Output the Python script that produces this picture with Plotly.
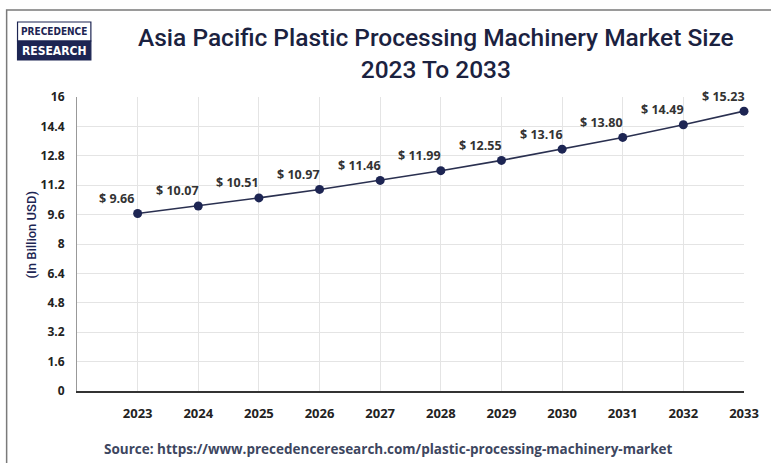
import plotly.graph_objects as go

years = [2023, 2024, 2025, 2026, 2027, 2028, 2029, 2030, 2031, 2032, 2033]
values = [9.66, 10.07, 10.51, 10.97, 11.46, 11.99, 12.55, 13.16, 13.80, 14.49, 15.23]
value_labels = ["$ 9.66", "$ 10.07", "$ 10.51", "$ 10.97", "$ 11.46", "$ 11.99",
                "$ 12.55", "$ 13.16", "$ 13.80", "$ 14.49", "$ 15.23"]
y_ticks = [0, 1.6, 3.2, 4.8, 6.4, 8, 9.6, 11.2, 12.8, 14.4, 16]
y_tick_text = ["0", "1.6", "3.2", "4.8", "6.4", "8", "9.6", "11.2", "12.8", "14.4", "16"]

W, H = 771, 463
L, R, T, B = 77, 750, 97, 391
NAVY = "#1d2553"
TFONT = "Roboto, Arial, sans-serif"
FONT = "Open Sans, Arial, sans-serif"
LOGO_FONT = "DejaVu Sans Condensed, Liberation Sans Narrow, sans-serif"


def px(x):
    return (x - L) / (R - L)


def py(y):
    return (B - y) / (B - T)


fig = go.Figure()
fig.add_trace(go.Scatter(
    x=years, y=values, mode="lines+markers",
    line=dict(color="#2a3050", width=1.6),
    marker=dict(color=NAVY, size=9),
    cliponaxis=False, hoverinfo="skip", showlegend=False,
))

annotations = []
for yr, v, t in zip(years, values, value_labels):
    annotations.append(dict(
        x=yr, y=v, xref="x", yref="y", text=t, showarrow=False,
        xshift=-21, yshift=15,
        font=dict(family=FONT, size=12.5, color="#333333", weight="bold"),
    ))

# Title
annotations.append(dict(
    x=px(439), y=py(53), xref="paper", yref="paper", showarrow=False,
    text="Asia Pacific Plastic Processing Machinery Market Size<br>2023 To 2033",
    font=dict(family=TFONT, size=24.5, color="#1b2240", weight=500),
    xanchor="center", yanchor="middle", align="center",
))
# Y-axis title
annotations.append(dict(
    x=px(31), y=py(235), xref="paper", yref="paper", showarrow=False,
    text="(In Billion USD)", textangle=-90,
    font=dict(family=TFONT, size=13, color=NAVY, weight=500),
    xanchor="center", yanchor="middle",
))
# Source
annotations.append(dict(
    x=px(391), y=py(449), xref="paper", yref="paper", showarrow=False,
    text="Source: https://www.precedenceresearch.com/plastic-processing-machinery-market",
    font=dict(family=FONT, size=13.5, color="#3d4660", weight="bold"),
    xanchor="center", yanchor="middle",
))
# Logo text
annotations.append(dict(
    x=px(54), y=py(31.5), xref="paper", yref="paper", showarrow=False,
    text="PRECEDENCE",
    font=dict(family=LOGO_FONT, size=10, color=NAVY, weight="bold"),
    xanchor="center", yanchor="middle",
))
annotations.append(dict(
    x=px(54), y=py(50.5), xref="paper", yref="paper", showarrow=False,
    text="RESEARCH",
    font=dict(family=LOGO_FONT, size=12, color="white", weight="bold"),
    xanchor="center", yanchor="middle",
))

shapes = [
    # outer border
    dict(type="rect", xref="paper", yref="paper", x0=px(6), x1=px(790), y0=py(480), y1=py(10),
         line=dict(color="#7a7a7a", width=1.5), fillcolor="rgba(0,0,0,0)", layer="below"),
    # logo
    dict(type="rect", xref="paper", yref="paper", x0=px(17), x1=px(91), y0=py(41), y1=py(22),
         line=dict(color=NAVY, width=1.2), fillcolor="white"),
    dict(type="rect", xref="paper", yref="paper", x0=px(17), x1=px(91), y0=py(60), y1=py(41),
         line=dict(color=NAVY, width=1.2), fillcolor=NAVY),
]

fig.update_layout(
    width=W, height=H,
    margin=dict(l=L, r=W - R, t=T, b=H - B),
    paper_bgcolor="white", plot_bgcolor="white",
    annotations=annotations, shapes=shapes,
    xaxis=dict(
        range=[2022, 2033], tickvals=years, ticktext=[str(y) for y in years],
        showgrid=True, gridcolor="#e4e4e4", gridwidth=1,
        showline=True, linecolor="#333333", linewidth=1.5,
        zeroline=False, ticks="", ticklabelstandoff=10,
        tickfont=dict(family=FONT, size=13, color="#222222", weight="bold"),
    ),
    yaxis=dict(
        range=[0, 16], tickvals=y_ticks, ticktext=y_tick_text,
        showgrid=True, gridcolor="#e4e4e4", gridwidth=1,
        showline=True, linecolor="#999999", linewidth=1,
        zeroline=False, ticks="", ticklabelstandoff=9,
        tickfont=dict(family=FONT, size=12, color="#222222", weight="bold"),
    ),
)

fig.write_html("out.html", config={"displayModeBar": False},
               post_script="document.body.style.margin='0';document.body.style.padding='0';")
